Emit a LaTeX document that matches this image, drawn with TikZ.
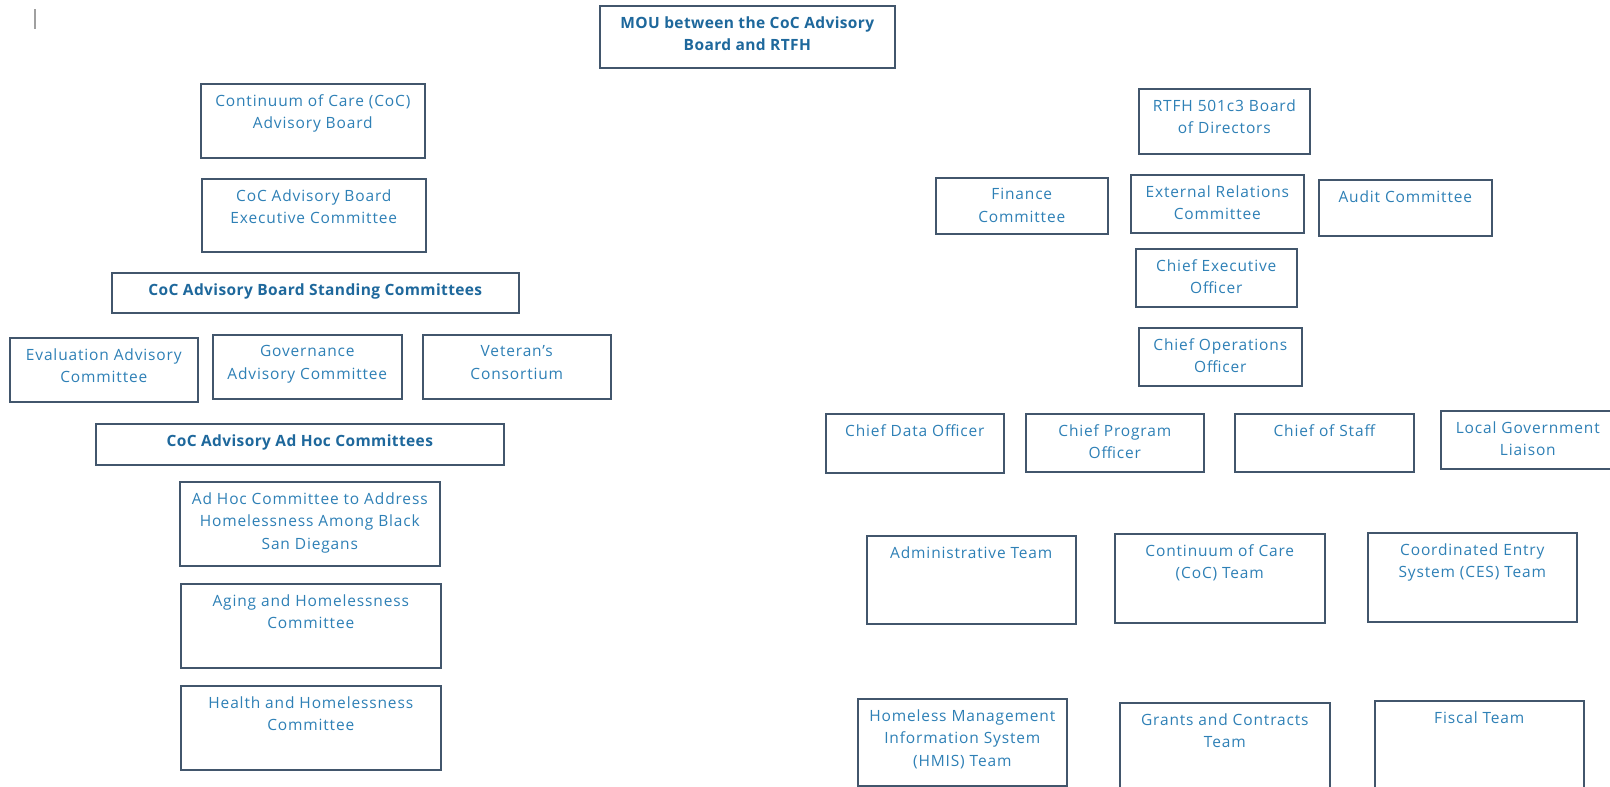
\documentclass[tikz,border=0pt]{standalone}
\usepackage{fontspec}
\setmainfont{Open Sans}[LetterSpace=5.5, BoldFeatures={LetterSpace=2.5}]
\definecolor{txtblue}{RGB}{46,128,182}
\definecolor{boldblue}{RGB}{30,104,156}
\definecolor{frame}{RGB}{66,86,108}
\definecolor{cursorgray}{RGB}{160,160,160}
\tikzset{
  orgbox/.style={draw=frame, line width=1.6pt, rectangle, inner sep=0pt},
  orglbl/.style={text=txtblue, align=center, inner sep=0pt, anchor=north,
    font={\fontsize{15.5}{22.6}\selectfont}},
  orgbold/.style={orglbl, text=boldblue, font={\bfseries\fontsize{15.5}{22.6}\selectfont}}
}
\newcommand{\orgnode}[7][orglbl]{%
  \node[orgbox, anchor=north west, minimum width={#4-#2}, minimum height={#5-#3}] (#6) at (#2,#3) {};
  \node[#1] (#6t) at ([yshift=-11.2pt]#6.north) {#7};}
\begin{document}
\begin{tikzpicture}[x=1pt,y=-1pt]
\useasboundingbox (0,0) rectangle (1610,787);
\clip (0,0) rectangle (1610,787);
\fill[white] (0,0) rectangle (1610,787);
\coordinate (cur1) at (35,9);
\coordinate (cur2) at (35,29);
\draw[cursorgray, line width=2pt] (cur1) -- (cur2);
% left side
\orgnode[orgbold]{599}{5}{894}{67}{mou}{MOU between the CoC Advisory\\Board and RTFH}
\orgnode{200}{83}{424}{157}{cocab}{Continuum of Care (CoC)\\Advisory Board}
\orgnode{201}{178}{425}{251}{exec}{CoC Advisory Board\\Executive Committee}
\orgnode[orgbold]{111}{272}{518}{312}{stand}{CoC Advisory Board Standing Committees}
\orgnode{9}{337}{197}{401}{eval}{Evaluation Advisory\\Committee}
\orgnode{212}{334}{401}{398}{gov}{Governance\\Advisory Committee}
\orgnode{422}{334}{610}{398}{vet}{Veteran's\\Consortium}
\orgnode[orgbold]{95}{423}{503}{464}{adhoc}{CoC Advisory Ad Hoc Committees}
\orgnode{179}{481}{439}{565}{black}{Ad Hoc Committee to Address\\Homelessness Among Black\\San Diegans}
\orgnode{180}{583}{440}{667}{aging}{Aging and Homelessness\\Committee}
\orgnode{180}{685}{440}{769}{health}{Health and Homelessness\\Committee}
% right side
\orgnode{1138}{88}{1309}{153}{rtfh}{RTFH 501c3 Board\\of Directors}
\orgnode{935}{177}{1107}{233}{fin}{Finance\\Committee}
\orgnode{1130}{174}{1303}{232}{ext}{External Relations\\Committee}
\orgnode{1318}{179}{1491}{235}{audit}{Audit Committee}
\orgnode{1135}{248}{1296}{306}{ceo}{Chief Executive\\Officer}
\orgnode{1138}{327}{1301}{385}{coo}{Chief Operations\\Officer}
\orgnode{825}{413}{1003}{472}{cdo}{Chief Data Officer}
\orgnode{1025}{413}{1203}{471}{cpo}{Chief Program\\Officer}
\orgnode{1234}{413}{1413}{471}{cos}{Chief of Staff}
\orgnode{1440}{410}{1614}{468}{lgl}{Local Government\\Liaison}
\orgnode{866}{535}{1075}{623}{admin}{Administrative Team}
\orgnode{1114}{533}{1324}{622}{cocteam}{Continuum of Care\\(CoC) Team}
\orgnode{1367}{532}{1576}{621}{ces}{Coordinated Entry\\System (CES) Team}
\orgnode{857}{698}{1066}{785}{hmis}{Homeless Management\\Information System\\(HMIS) Team}
\orgnode{1119}{702}{1329}{800}{grants}{Grants and Contracts\\Team}
\orgnode{1374}{700}{1583}{800}{fiscal}{Fiscal Team}
\end{tikzpicture}
\end{document}
